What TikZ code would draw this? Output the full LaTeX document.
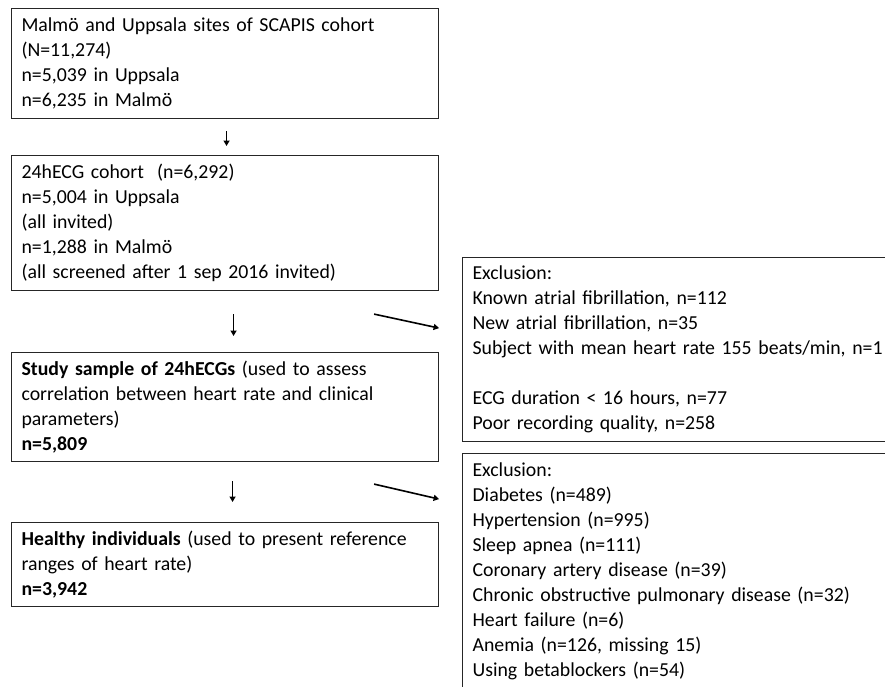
\documentclass[tikz,border=0pt]{standalone}
\usepackage{fontspec}
\setmainfont{Carlito}
\usetikzlibrary{arrows.meta}

\tikzset{
  box/.style={draw=black!85, line width=1.1pt, anchor=north west, align=left,
    text width=407pt, inner xsep=10pt, inner ysep=5pt,
    font=\fontsize{19.8}{25}\selectfont},
  wide/.style={box, text width=430pt},
  arr/.style={-{Triangle[length=5.5pt,width=6pt]}, line width=1.6pt},
}

\begin{document}
\begin{tikzpicture}[x=1pt,y=-1pt]
\useasboundingbox (0,0) rectangle (885,686);
\clip (0,0) rectangle (885,686);

% Left column
\node[box, minimum height=110pt] (cohort) at (11,8)
  {Malmö and Uppsala sites of SCAPIS cohort\\(N=11,274)\\n=5,039 in Uppsala\\n=6,235 in Malmö};
\node[box, minimum height=135pt] (holter) at (11,155)
  {24hECG cohort~ (n=6,292)\\n=5,004 in Uppsala\\(all invited)\\n=1,288 in Malmö\\(all screened after 1 sep 2016 invited)};
\node[box, minimum height=109pt] (sample) at (11,352)
  {\textbf{Study sample of 24hECGs} (used to assess\\correlation between heart rate and clinical\\parameters)\\\textbf{n=5,809}};
\node[box, minimum height=84pt] (healthy) at (11,522)
  {\textbf{Healthy individuals} (used to present reference\\ranges of heart rate)\\\textbf{n=3,942}};

% Exclusions
\node[wide, minimum height=184pt] (exclA) at (462,257)
  {Exclusion:\\Known atrial fibrillation, n=112\\New atrial fibrillation, n=35\\Subject with mean heart rate 155 beats/min, n=1\\[25pt]ECG duration < 16 hours, n=77\\Poor recording quality, n=258};
\node[wide, minimum height=235pt] (exclB) at (462,453)
  {Exclusion:\\Diabetes (n=489)\\Hypertension (n=995)\\Sleep apnea (n=111)\\Coronary artery disease (n=39)\\Chronic obstructive pulmonary disease (n=32)\\Heart failure (n=6)\\Anemia (n=126, missing 15)\\Using betablockers (n=54)};

% Arrows
\draw[arr] ([xshift=1.5pt,yshift=-12pt]cohort.south) -- ([xshift=1.5pt,yshift=9pt]holter.north);
\draw[arr] ([xshift=8.5pt,yshift=-23pt]holter.south) -- ([xshift=8.5pt,yshift=16pt]sample.north);
\draw[arr] ([xshift=7.5pt,yshift=-19pt]sample.south) -- ([xshift=7.5pt,yshift=20pt]healthy.north);
\draw[arr] ([xshift=-65pt,yshift=-23pt]holter.south east) -- ([yshift=-37pt]holter.south east);
\draw[arr] ([xshift=-65pt,yshift=-22pt]sample.south east) -- ([yshift=-37pt]sample.south east);

\end{tikzpicture}
\end{document}
